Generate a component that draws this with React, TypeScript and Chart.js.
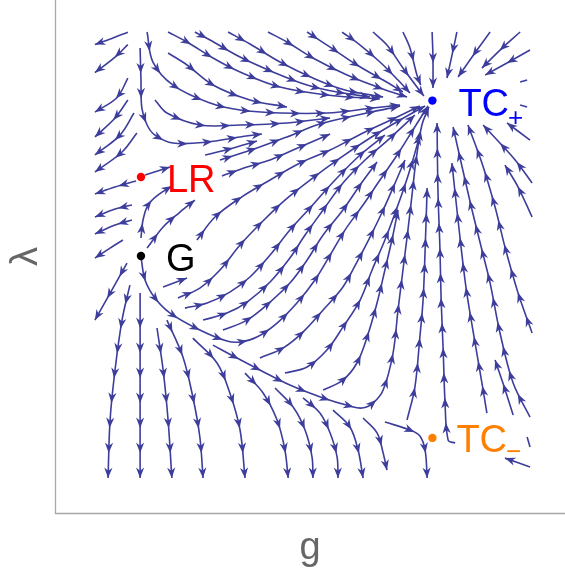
import { useEffect, useRef } from "react";
import { Chart, registerables } from "chart.js";

Chart.register(...registerables);

type Line = number[][]; // [g, λ] pairs, listed in the direction of the flow

// axis ranges
const G_MIN = -0.295;
const G_MAX = 1.455;
const L_MIN = -1.653;
const L_MAX = 1.647;

const X_TITLE = "g";
const Y_TITLE = "λ";

// fixed points
const fixedPointMain = ["G", "LR", "TC", "TC"];
const fixedPointSub = ["", "", "+", "−"];
const fixedPointG = [0, 0, 1.0, 1.0];
const fixedPointLambda = [0, 0.508, 1.0, -1.17];
const fixedPointColors = ["#000000", "#ff0000", "#0000ff", "#ff8000"];

// streamlines on the far left (flowing out to the left)
const leftColumnLines: Line[] = [
  [[-0.045, 1.44], [-0.1, 1.4], [-0.158, 1.36]],
  [[-0.045, 1.36], [-0.089, 1.28], [-0.158, 1.18]],
  [[-0.045, 1.145], [-0.082, 1.02], [-0.158, 0.926]],
  [[-0.045, 1.004], [-0.089, 0.888], [-0.158, 0.766]],
  [[-0.024, 0.92], [-0.072, 0.778], [-0.158, 0.65]],
  [[-0.014, 0.791], [-0.065, 0.669], [-0.158, 0.54]],
  [[-0.017, 0.482], [-0.089, 0.444], [-0.158, 0.399]],
  [[-0.031, 0.328], [-0.089, 0.302], [-0.158, 0.251]],
  [[-0.031, 0.232], [-0.089, 0.199], [-0.158, 0.142]],
  [[-0.062, 0.103], [-0.106, 0.051], [-0.158, -0.013]],
  [[-0.048, -0.045], [-0.1, -0.219], [-0.158, -0.412]],
];

// streamlines coming from the top into TC+
const topLines: Line[] = [
  [[-0.003, 1.338], [0, 1.132], [0.003, 0.952], [0.021, 0.843], [0.048, 0.778], [0.11, 0.727], [0.227, 0.733], [0.34, 0.766], [0.415, 0.785]],
  [[0.021, 1.441], [0.041, 1.248], [0.11, 1.1], [0.237, 0.984], [0.34, 0.939], [0.477, 0.92], [0.638, 0.92], [0.796, 0.952], [0.889, 0.971]],
  [[0.093, 1.306], [0.158, 1.229], [0.247, 1.1], [0.374, 1.004], [0.501, 0.959]],
  [[0.048, 1.004], [0.089, 0.92], [0.202, 0.843], [0.34, 0.843], [0.501, 0.856], [0.649, 0.888]],
  [[0.093, 1.441], [0.158, 1.377], [0.247, 1.274], [0.34, 1.184], [0.477, 1.087], [0.638, 1.036], [0.82, 1.01]],
  [[0.185, 1.441], [0.237, 1.39], [0.34, 1.28], [0.453, 1.184], [0.57, 1.1], [0.673, 1.055], [0.786, 1.023]],
  [[0.299, 1.441], [0.374, 1.364], [0.477, 1.248], [0.59, 1.145], [0.7, 1.068], [0.831, 1.023]],
  [[0.436, 1.441], [0.501, 1.377], [0.59, 1.274], [0.707, 1.164], [0.82, 1.081], [0.913, 1.023]],
  [[0.57, 1.441], [0.649, 1.344], [0.741, 1.229], [0.831, 1.132], [0.899, 1.055]],
  [[0.69, 1.441], [0.752, 1.357], [0.82, 1.248], [0.882, 1.132], [0.923, 1.049]],
  [[0.796, 1.441], [0.844, 1.357], [0.899, 1.209], [0.947, 1.087], [0.971, 1.029]],
  [[0.899, 1.441], [0.923, 1.338], [0.947, 1.164], [0.96, 1.1]],
  [[0.999, 1.441], [1.002, 1.274], [1.002, 1.081]],
  [[1.084, 1.441], [1.071, 1.325], [1.05, 1.145]],
  [[1.198, 1.441], [1.153, 1.325], [1.088, 1.152]],
  [[1.301, 1.441], [1.232, 1.325], [1.17, 1.209]],
  [[1.335, 1.325], [1.256, 1.242], [1.181, 1.164]],
];

// streamlines in the fan between G, LR and TC+
const fanLines: Line[] = [
  [[0, 0.116], [0.007, 0.232], [0.024, 0.328], [0.058, 0.392], [0.106, 0.45]],
  [[0.021, 0.051], [0.076, 0.187], [0.134, 0.283], [0.185, 0.36]],
  [[0.192, 0.103], [0.254, 0.251], [0.34, 0.373], [0.443, 0.489], [0.546, 0.598], [0.649, 0.682], [0.769, 0.798], [0.872, 0.888], [0.957, 0.965]],
  [[0.127, -0.27], [0.202, -0.206], [0.271, -0.09], [0.34, 0.071], [0.415, 0.219], [0.494, 0.36], [0.58, 0.489], [0.683, 0.63], [0.786, 0.759], [0.889, 0.875], [0.975, 0.965]],
  [[0.151, -0.335], [0.227, -0.302], [0.305, -0.232], [0.374, -0.135], [0.443, 0.006], [0.511, 0.167], [0.58, 0.309], [0.666, 0.489], [0.752, 0.65], [0.837, 0.778]],
  [[0.213, -0.412], [0.295, -0.367], [0.364, -0.296], [0.443, -0.167], [0.511, -0.013], [0.563, 0.135], [0.625, 0.296], [0.693, 0.47], [0.769, 0.618], [0.855, 0.759], [0.94, 0.907]],
  [[0.281, -0.476], [0.364, -0.412], [0.443, -0.296], [0.511, -0.174], [0.57, -0.026], [0.625, 0.135], [0.693, 0.296], [0.752, 0.457], [0.81, 0.605]],
  [[0, -0.006], [0.014, -0.154], [0.048, -0.27], [0.1, -0.367], [0.202, -0.476], [0.295, -0.547], [0.34, -0.553], [0.398, -0.521], [0.467, -0.431], [0.535, -0.302], [0.597, -0.154], [0.649, 0.006], [0.7, 0.167], [0.762, 0.328], [0.82, 0.489], [0.879, 0.65], [0.933, 0.811], [0.985, 0.965]],
  [[0.408, -0.656], [0.487, -0.592], [0.556, -0.489], [0.625, -0.347], [0.693, -0.199], [0.741, -0.039], [0.786, 0.122], [0.831, 0.296], [0.872, 0.47], [0.906, 0.618]],
  [[0.494, -0.753], [0.57, -0.714], [0.638, -0.605], [0.693, -0.457], [0.752, -0.283], [0.793, -0.09], [0.837, 0.103], [0.872, 0.277], [0.906, 0.457], [0.933, 0.618], [0.957, 0.778]],
  [[0.625, -0.862], [0.693, -0.798], [0.741, -0.688], [0.776, -0.521], [0.81, -0.302], [0.837, -0.09], [0.861, 0.103], [0.882, 0.296]],
  [[0.247, -0.573], [0.323, -0.65], [0.408, -0.733], [0.511, -0.83], [0.625, -0.913], [0.717, -0.965], [0.758, -0.978], [0.796, -0.946], [0.831, -0.862], [0.865, -0.624], [0.882, -0.347], [0.899, -0.09], [0.916, 0.167], [0.93, 0.392], [0.944, 0.618], [0.964, 0.843], [0.988, 0.959]],
  [[0.076, -0.199], [0.158, -0.142]],
  [[0.22, 0.65], [0.305, 0.689], [0.398, 0.74]],
  [[0.271, 0.618], [0.398, 0.695], [0.501, 0.766], [0.614, 0.849], [0.776, 0.92], [0.889, 0.965]],
  [[0.014, 0.521], [0.1, 0.573]],
  [[0.278, 0.515], [0.364, 0.573], [0.443, 0.618], [0.522, 0.682], [0.649, 0.785]],
];

// streamlines flowing downwards below G
const bottomLines: Line[] = [
  [[-0.038, -0.187], [-0.065, -0.412], [-0.089, -0.733], [-0.106, -1.055], [-0.113, -1.428]],
  [[-0.003, -0.238], [-0.003, -0.733], [-0.003, -1.428]],
  [[0.055, -0.463], [0.076, -0.733], [0.093, -1.055], [0.106, -1.428]],
  [[0.089, -0.412], [0.144, -0.65], [0.178, -0.907], [0.202, -1.164], [0.213, -1.428]],
  [[0.178, -0.528], [0.261, -0.688], [0.305, -0.881], [0.34, -1.119], [0.357, -1.428]],
  [[0.357, -0.753], [0.419, -0.881], [0.467, -1.055], [0.494, -1.248], [0.505, -1.428]],
  [[0.46, -0.849], [0.522, -0.971], [0.563, -1.119], [0.587, -1.293], [0.59, -1.428]],
  [[0.556, -0.913], [0.614, -1.01], [0.649, -1.138], [0.673, -1.293], [0.676, -1.428]],
  [[0.659, -0.991], [0.717, -1.1], [0.745, -1.248], [0.762, -1.428]],
  [[0.762, -1.042], [0.81, -1.138], [0.831, -1.267], [0.844, -1.377]],
  [[0.837, -1.068], [0.923, -1.119], [0.957, -1.157], [0.975, -1.248], [0.982, -1.428]],
];

// streamlines rising towards TC+ on the right
const rightLines: Line[] = [
  [[0.913, -1.055], [0.94, -0.843], [0.957, -0.521], [0.968, -0.283], [0.975, 0.039], [0.982, 0.437]],
  [[1.078, -1.203], [1.054, -1.184], [1.043, -0.926], [1.037, -0.605], [1.03, -0.283], [1.026, 0.039], [1.019, 0.425], [1.016, 0.856]],
  [[1.187, -1.01], [1.17, -0.817], [1.143, -0.521], [1.115, -0.199], [1.088, 0.232], [1.067, 0.598]],
  [[1.335, -1.036], [1.277, -0.817], [1.232, -0.495], [1.198, -0.174], [1.17, 0.039], [1.136, 0.296], [1.102, 0.573], [1.071, 0.83]],
  [[1.277, -1.023], [1.242, -0.817], [1.215, -0.669]],
  [[1.342, -0.495], [1.294, -0.238], [1.249, 0.058], [1.215, 0.315], [1.17, 0.598], [1.122, 0.843]],
  [[1.342, 0.251], [1.294, 0.444], [1.249, 0.585]],
  [[1.342, 0.47], [1.284, 0.618], [1.222, 0.746], [1.174, 0.843]],
  [[1.335, 0.746], [1.256, 0.856]],
  [[1.335, -1.357], [1.249, -1.3]],
  [[1.325, -1.164], [1.335, -1.229]],
  [[1.301, 1.119], [1.325, 1.132]],
  [[1.301, 0.971], [1.325, 0.959]],
];

const STREAM_COLOR = "#3d3d9c";
const AXIS_COLOR = "#a8a8a8";
const TITLE_COLOR = "#666666";
const FONT = "'Liberation Sans', Arial, sans-serif";

const allLines: Line[] = [
  ...leftColumnLines,
  ...topLines,
  ...fanLines,
  ...bottomLines,
  ...rightLines,
];

const ARROW_SPACING = 25;
const ARROW_LEN = 10.5;
const ARROW_HALF = 4.1;

const frameAndTitles = {
  id: "frameAndTitles",
  beforeDatasetsDraw(chart: any) {
    const { ctx, chartArea: a } = chart;
    ctx.save();
    ctx.strokeStyle = AXIS_COLOR;
    ctx.lineWidth = 1.3;
    ctx.beginPath();
    ctx.moveTo(a.left + 0.5, a.top);
    ctx.lineTo(a.left + 0.5, a.bottom + 0.5);
    ctx.lineTo(a.right, a.bottom + 0.5);
    ctx.stroke();
    ctx.fillStyle = TITLE_COLOR;
    ctx.font = `38px ${FONT}`;
    ctx.textAlign = "center";
    ctx.textBaseline = "alphabetic";
    ctx.fillText(X_TITLE, (a.left + a.right) / 2, a.bottom + 46);
    ctx.translate(a.left - 18, (a.top + a.bottom) / 2);
    ctx.rotate(-Math.PI / 2);
    ctx.fillText(Y_TITLE, 0, 0);
    ctx.restore();
  },
};

const streamArrows = {
  id: "streamArrows",
  afterDatasetsDraw(chart: any) {
    const ctx = chart.ctx;
    ctx.save();
    ctx.fillStyle = STREAM_COLOR;
    chart.data.datasets.forEach((ds: any, i: number) => {
      if (!ds.isStream) return;
      const pts = chart.getDatasetMeta(i).data;
      if (!pts || pts.length < 2) return;
      const poly: number[][] = [];
      for (let k = 0; k < pts.length - 1; k++) {
        const p = pts[k];
        const q = pts[k + 1];
        const c1x = p.cp2x ?? p.x;
        const c1y = p.cp2y ?? p.y;
        const c2x = q.cp1x ?? q.x;
        const c2y = q.cp1y ?? q.y;
        const n = 16;
        for (let s = 0; s < n; s++) {
          const t = s / n;
          const u = 1 - t;
          poly.push([
            u * u * u * p.x + 3 * u * u * t * c1x + 3 * u * t * t * c2x + t * t * t * q.x,
            u * u * u * p.y + 3 * u * u * t * c1y + 3 * u * t * t * c2y + t * t * t * q.y,
          ]);
        }
      }
      const last = pts[pts.length - 1];
      poly.push([last.x, last.y]);
      const cum: number[] = [0];
      for (let k = 1; k < poly.length; k++) {
        cum.push(cum[k - 1] + Math.hypot(poly[k][0] - poly[k - 1][0], poly[k][1] - poly[k - 1][1]));
      }
      const total = cum[cum.length - 1];
      if (total < 12) return;
      const at = (d: number) => {
        let k = 1;
        while (k < cum.length - 1 && cum[k] < d) k++;
        const seg = cum[k] - cum[k - 1] || 1;
        const f = Math.min(1, Math.max(0, (d - cum[k - 1]) / seg));
        return [
          poly[k - 1][0] + f * (poly[k][0] - poly[k - 1][0]),
          poly[k - 1][1] + f * (poly[k][1] - poly[k - 1][1]),
        ];
      };
      for (let d = total; d >= 11; d -= ARROW_SPACING) {
        const tip = at(d);
        const back = at(Math.max(0, d - 6));
        let dx = tip[0] - back[0];
        let dy = tip[1] - back[1];
        const len = Math.hypot(dx, dy) || 1;
        dx /= len;
        dy /= len;
        const nx = -dy;
        const ny = dx;
        const bx = tip[0] - dx * ARROW_LEN;
        const by = tip[1] - dy * ARROW_LEN;
        const mx = tip[0] - dx * ARROW_LEN * 0.7;
        const my = tip[1] - dy * ARROW_LEN * 0.7;
        ctx.beginPath();
        ctx.moveTo(tip[0], tip[1]);
        ctx.lineTo(bx + nx * ARROW_HALF, by + ny * ARROW_HALF);
        ctx.lineTo(mx, my);
        ctx.lineTo(bx - nx * ARROW_HALF, by - ny * ARROW_HALF);
        ctx.closePath();
        ctx.fill();
      }
    });
    ctx.restore();
  },
};

const labelDx = [25, 26, 26, 24];
const labelDy = [14.5, 14.5, 15, 14];
const subDy = [0, 0, 10, 8];

const pointLabels = {
  id: "pointLabels",
  afterDraw(chart: any) {
    const { ctx } = chart;
    const xs = chart.scales.x;
    const ys = chart.scales.y;
    ctx.save();
    ctx.textAlign = "left";
    ctx.textBaseline = "alphabetic";
    fixedPointMain.forEach((name, i) => {
      const px = xs.getPixelForValue(fixedPointG[i]) + labelDx[i];
      const py = ys.getPixelForValue(fixedPointLambda[i]) + labelDy[i];
      ctx.fillStyle = fixedPointColors[i];
      ctx.font = `38px ${FONT}`;
      ctx.fillText(name, px, py);
      if (fixedPointSub[i]) {
        const w = ctx.measureText(name).width;
        ctx.font = `26px ${FONT}`;
        ctx.fillText(fixedPointSub[i], px + w - 1, py + subDy[i]);
      }
    });
    ctx.restore();
  },
};

export default function App() {
  const ref = useRef<HTMLCanvasElement>(null);

  useEffect(() => {
    const canvas = ref.current;
    if (!canvas) return;
    const streamSets = allLines.map((line) => ({
      isStream: true,
      data: line.map(([g, l]) => ({ x: g, y: l })),
      showLine: true,
      borderColor: STREAM_COLOR,
      borderWidth: 1.6,
      pointRadius: 0,
      pointHoverRadius: 0,
      tension: 0.35,
      fill: false,
      order: 1,
    }));
    const pointSet = {
      isStream: false,
      data: fixedPointG.map((g, i) => ({ x: g, y: fixedPointLambda[i] })),
      showLine: false,
      pointRadius: 4.2,
      pointBorderWidth: 0,
      pointBackgroundColor: fixedPointColors,
      pointBorderColor: fixedPointColors,
      order: 0,
    };
    const chart = new Chart(canvas, {
      type: "scatter",
      data: { datasets: [pointSet, ...streamSets] as any },
      options: {
        animation: false,
        responsive: false,
        events: [],
        layout: { autoPadding: false, padding: { left: 55, right: 0, top: 0, bottom: 61 } },
        scales: {
          x: { type: "linear", display: false, min: G_MIN, max: G_MAX },
          y: { type: "linear", display: false, min: L_MIN, max: L_MAX },
        },
        plugins: {
          legend: { display: false },
          tooltip: { enabled: false },
        },
      },
      plugins: [frameAndTitles, streamArrows, pointLabels],
    });
    return () => chart.destroy();
  }, []);

  return (
    <div style={{ position: "absolute", left: 0, top: 0, width: 565, height: 574, background: "#ffffff" }}>
      <canvas ref={ref} width={565} height={574} style={{ display: "block", width: 565, height: 574 }} />
    </div>
  );
}
